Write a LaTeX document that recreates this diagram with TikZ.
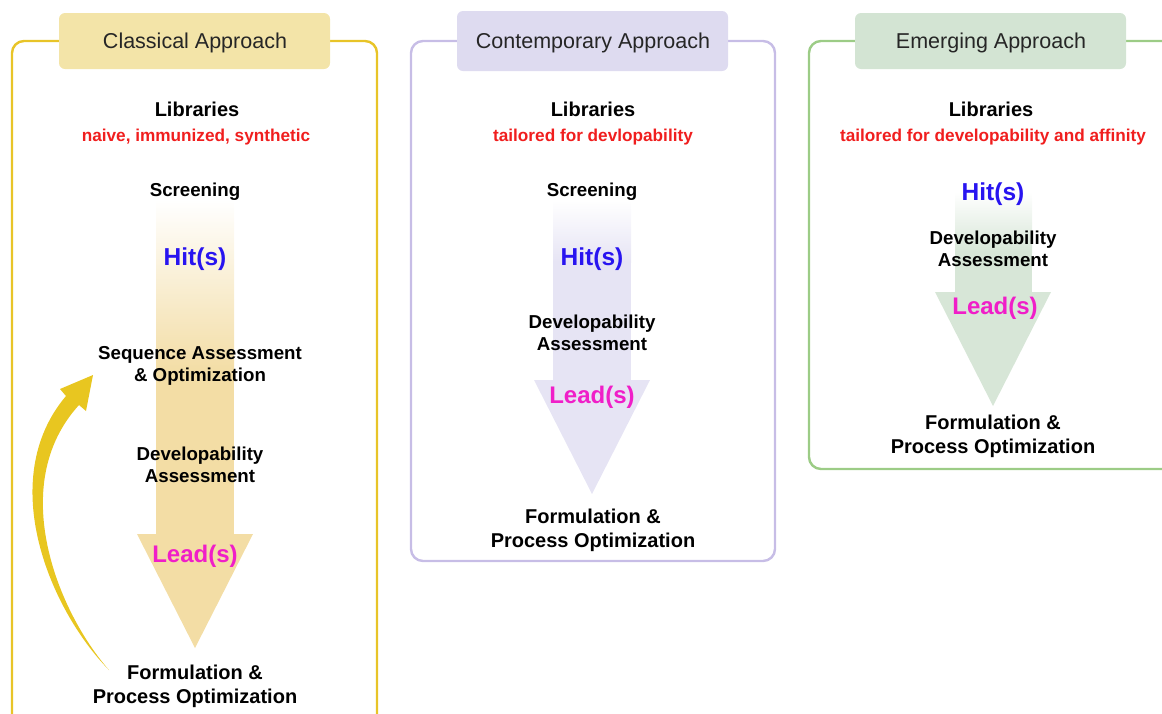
\documentclass[tikz,border=0pt]{standalone}
\usepackage{fontspec}
\setmainfont{Liberation Sans}
\begin{document}
\begin{tikzpicture}[x=1pt,y=-1pt,
  panel/.style={line width=2.4pt,rounded corners=12pt},
  header/.style={rounded corners=6pt},
  txt/.style={inner sep=0pt,yshift=-2pt},
  ttl/.style={txt,font=\fontsize{21.5}{24}\selectfont,text=black!85},
  libt/.style={txt,font=\fontsize{20}{24}\selectfont\bfseries},
  redt/.style={txt,font=\fontsize{17.2}{20}\selectfont\bfseries,text=libred},
  stept/.style={txt,font=\fontsize{18.7}{22}\selectfont\bfseries,align=center},
  hitt/.style={txt,font=\fontsize{24.5}{28}\selectfont\bfseries,text=hitblue},
  leadt/.style={txt,font=\fontsize{24}{28}\selectfont\bfseries,text=leadmag},
  formt/.style={txt,font=\fontsize{20}{24}\selectfont\bfseries,align=center},
]
\definecolor{ylwline}{RGB}{232,196,40}
\definecolor{ylwhead}{RGB}{243,228,168}
\definecolor{ylwarrow}{RGB}{243,221,165}
\definecolor{lavline}{RGB}{199,189,230}
\definecolor{lavhead}{RGB}{222,219,240}
\definecolor{lavarrow}{RGB}{230,228,244}
\definecolor{grnline}{RGB}{156,204,134}
\definecolor{grnhead}{RGB}{211,228,211}
\definecolor{grnarrow}{RGB}{215,230,215}
\definecolor{curvearrow}{RGB}{232,198,32}
\definecolor{libred}{RGB}{240,30,30}
\definecolor{hitblue}{RGB}{40,20,240}
\definecolor{leadmag}{RGB}{240,30,200}

\useasboundingbox (0,0) rectangle (1162,713);
\clip (0,0) rectangle (1162,713);

% ---------- panels ----------
\draw[panel,ylwline] (12,41) rectangle (377,728);
\draw[panel,lavline] (411,41) rectangle (775,561);
\draw[panel,grnline] (809,41) rectangle (1180,469);

\fill[header,ylwhead] (59,13) rectangle (330,69);
\fill[header,lavhead] (457,11) rectangle (728,71);
\fill[header,grnhead] (855,13) rectangle (1126,69);

\node[ttl] (t1) at (195,41) {Classical Approach};
\node[ttl] (t2) at (593,41) {Contemporary Approach};
\node[ttl] (t3) at (991,41) {Emerging Approach};

% ---------- big arrows ----------
% classical
\shade[top color=white,bottom color=ylwarrow] (156,200) rectangle (234,372);
\fill[ylwarrow] (156,371) rectangle (234,535);
\fill[ylwarrow] (137,534) -- (253,534) -- (195,648) -- cycle;
% contemporary
\shade[top color=white,bottom color=lavarrow] (553,200) rectangle (631,262);
\fill[lavarrow] (553,261) rectangle (631,381);
\fill[lavarrow] (534,380) -- (650,380) -- (592,494) -- cycle;
% emerging
\shade[top color=white,bottom color=grnarrow] (955,192) rectangle (1032,252);
\fill[grnarrow] (955,251) rectangle (1032,293);
\fill[grnarrow] (935,292) -- (1051,292) -- (993,406) -- cycle;

% ---------- panel 1 texts ----------
\node[libt] (l1) at (197,107) {Libraries};
\node[redt] (r1) at (196,135) {naive, immunized, synthetic};
\node[stept] (s1) at (195,190) {Screening};
\node[hitt] (h1) at (195,257) {Hit(s)};
\node[stept] (q1) at (200,364) {Sequence Assessment\\\& Optimization};
\node[stept] (d1) at (200,463) {Developability\\Assessment};
\node[leadt] (e1) at (195,554) {Lead(s)};
\node[formt] (f1) at (195,684) {Formulation \&\\Process Optimization};

% curved feedback arrow
\coordinate (cs) at (109,670);
\coordinate (ct) at (93,375);
\fill[curvearrow] (cs) .. controls (50,610) and (-5,480) .. (66,396)
  -- (60,389) -- (ct) -- (86,411) -- (79,405)
  .. controls (6,485) and (58,612) .. (cs) -- cycle;

% ---------- panel 2 texts ----------
\node[libt] (l2) at (593,107) {Libraries};
\node[redt] (r2) at (593,135) {tailored for devlopability};
\node[stept] (s2) at (592,190) {Screening};
\node[hitt] (h2) at (592,257) {Hit(s)};
\node[stept] (d2) at (592,331) {Developability\\Assessment};
\node[leadt] (e2) at (592,395) {Lead(s)};
\node[formt] (f2) at (593,528) {Formulation \&\\Process Optimization};

% ---------- panel 3 texts ----------
\node[libt] (l3) at (991,107) {Libraries};
\node[redt] (r3) at (993,135) {tailored for developability and affinity};
\node[hitt] (h3) at (993,192) {Hit(s)};
\node[stept] (d3) at (993,247) {Developability\\Assessment};
\node[leadt] (e3) at (995,306) {Lead(s)};
\node[formt] (f3) at (993,434) {Formulation \&\\Process Optimization};
\end{tikzpicture}
\end{document}
